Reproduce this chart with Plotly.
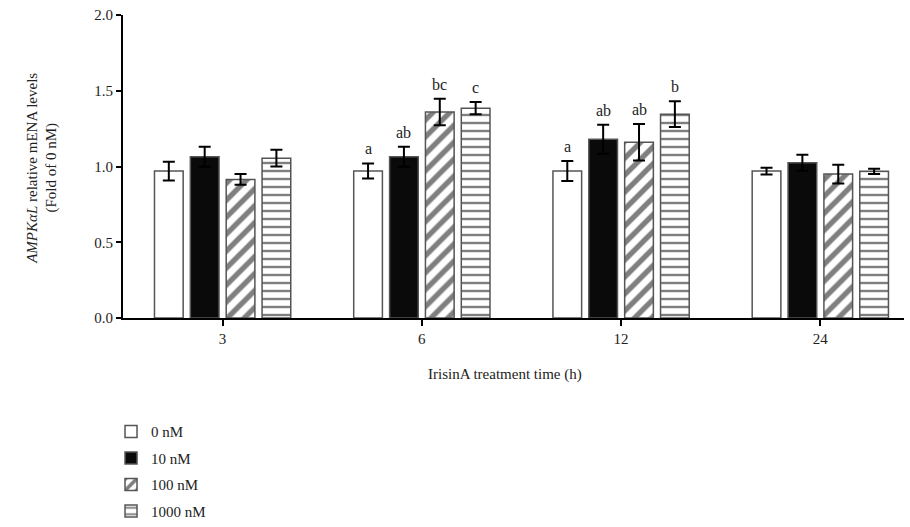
import plotly.graph_objects as go

times = ["3", "6", "12", "24"]
doses = ["0 nM", "10 nM", "100 nM", "1000 nM"]
values = {
    "0 nM":    [0.97, 0.97, 0.97, 0.97],
    "10 nM":   [1.065, 1.065, 1.18, 1.025],
    "100 nM":  [0.915, 1.36, 1.16, 0.95],
    "1000 nM": [1.055, 1.385, 1.345, 0.968],
}
errors = {
    "0 nM":    [0.062, 0.05, 0.066, 0.022],
    "10 nM":   [0.066, 0.066, 0.096, 0.053],
    "100 nM":  [0.035, 0.088, 0.12, 0.062],
    "1000 nM": [0.055, 0.04, 0.085, 0.017],
}
letters = {
    "0 nM":    ["", "a", "a", ""],
    "10 nM":   ["", "ab", "ab", ""],
    "100 nM":  ["", "bc", "ab", ""],
    "1000 nM": ["", "c", "b", ""],
}
x_title = "IrisinA treatment time (h)"
y_title = "<i>AMPKαL</i> relative mENA levels<br>(Fold of 0 nM)"

styles = {
    "0 nM":    dict(color="white", pattern=None),
    "10 nM":   dict(color="#0a0a0a", pattern=None),
    "100 nM":  dict(color="white", pattern=dict(shape="/", fgcolor="black", bgcolor="white", size=12, solidity=0.45)),
    "1000 nM": dict(color="white", pattern=dict(shape="-", fgcolor="black", bgcolor="white", size=8, solidity=0.3)),
}

FONT = "Liberation Serif"
bargap = 0.28
xs = list(range(len(times)))

fig = go.Figure()
for d in doses:
    st = styles[d]
    marker = dict(color=st["color"], line=dict(color="#555", width=1.5))
    if st["pattern"]:
        marker["pattern"] = st["pattern"]
    fig.add_trace(go.Bar(
        x=xs, y=values[d], name=d, marker=marker,
        error_y=dict(type="data", array=errors[d], color="black", thickness=2, width=6),
        legendgroup=d,
    ))

slot = (1 - bargap) / len(doses)
annotations = []
for k, d in enumerate(doses):
    off = (k - (len(doses) - 1) / 2) * slot
    for i, t in enumerate(times):
        if letters[d][i]:
            annotations.append(dict(
                x=xs[i] + off, y=values[d][i] + errors[d][i], text=letters[d][i],
                showarrow=False, yanchor="bottom", yshift=4,
                font=dict(family=FONT, size=16, color="#222"),
            ))

# axis titles as annotations
annotations.append(dict(
    xref="paper", yref="paper", x=-0.104, y=0.495, text=y_title, textangle=-90,
    showarrow=False, xanchor="center", yanchor="middle",
    font=dict(family=FONT, size=15, color="#222"),
))
annotations.append(dict(
    xref="paper", yref="paper", x=0.489, y=-0.188, text=x_title,
    showarrow=False, xanchor="center", yanchor="middle",
    font=dict(family=FONT, size=15, color="#222"),
))

fig.update_layout(
    width=910, height=527,
    margin=dict(l=123, r=6, t=15, b=209, autoexpand=False),
    paper_bgcolor="white", plot_bgcolor="white",
    barmode="group", bargap=bargap, bargroupgap=0.2,
    font=dict(family=FONT, size=15, color="#222"),
    showlegend=True,
    legend=dict(xref="container", yref="container", x=0.122, y=0.212,
                xanchor="left", yanchor="top",
                traceorder="grouped", tracegroupgap=4, itemwidth=30,
                font=dict(family=FONT, size=15, color="#222")),
    annotations=annotations,
)
fig.update_xaxes(
    tickmode="array", tickvals=xs, ticktext=times, range=[-0.5, 3.42],
    showline=True, linecolor="black", linewidth=2,
    ticks="outside", ticklen=6, tickwidth=2, tickcolor="black",
    showgrid=False, zeroline=False, automargin=False,
    tickfont=dict(family=FONT, size=15),
)
fig.update_yaxes(
    range=[0, 2], dtick=0.5, tickformat=".1f",
    showline=True, linecolor="black", linewidth=2,
    ticks="outside", ticklen=5, tickwidth=2, tickcolor="black",
    showgrid=False, zeroline=False, automargin=False,
    tickfont=dict(family=FONT, size=15),
)

fig.write_html("out.html")
